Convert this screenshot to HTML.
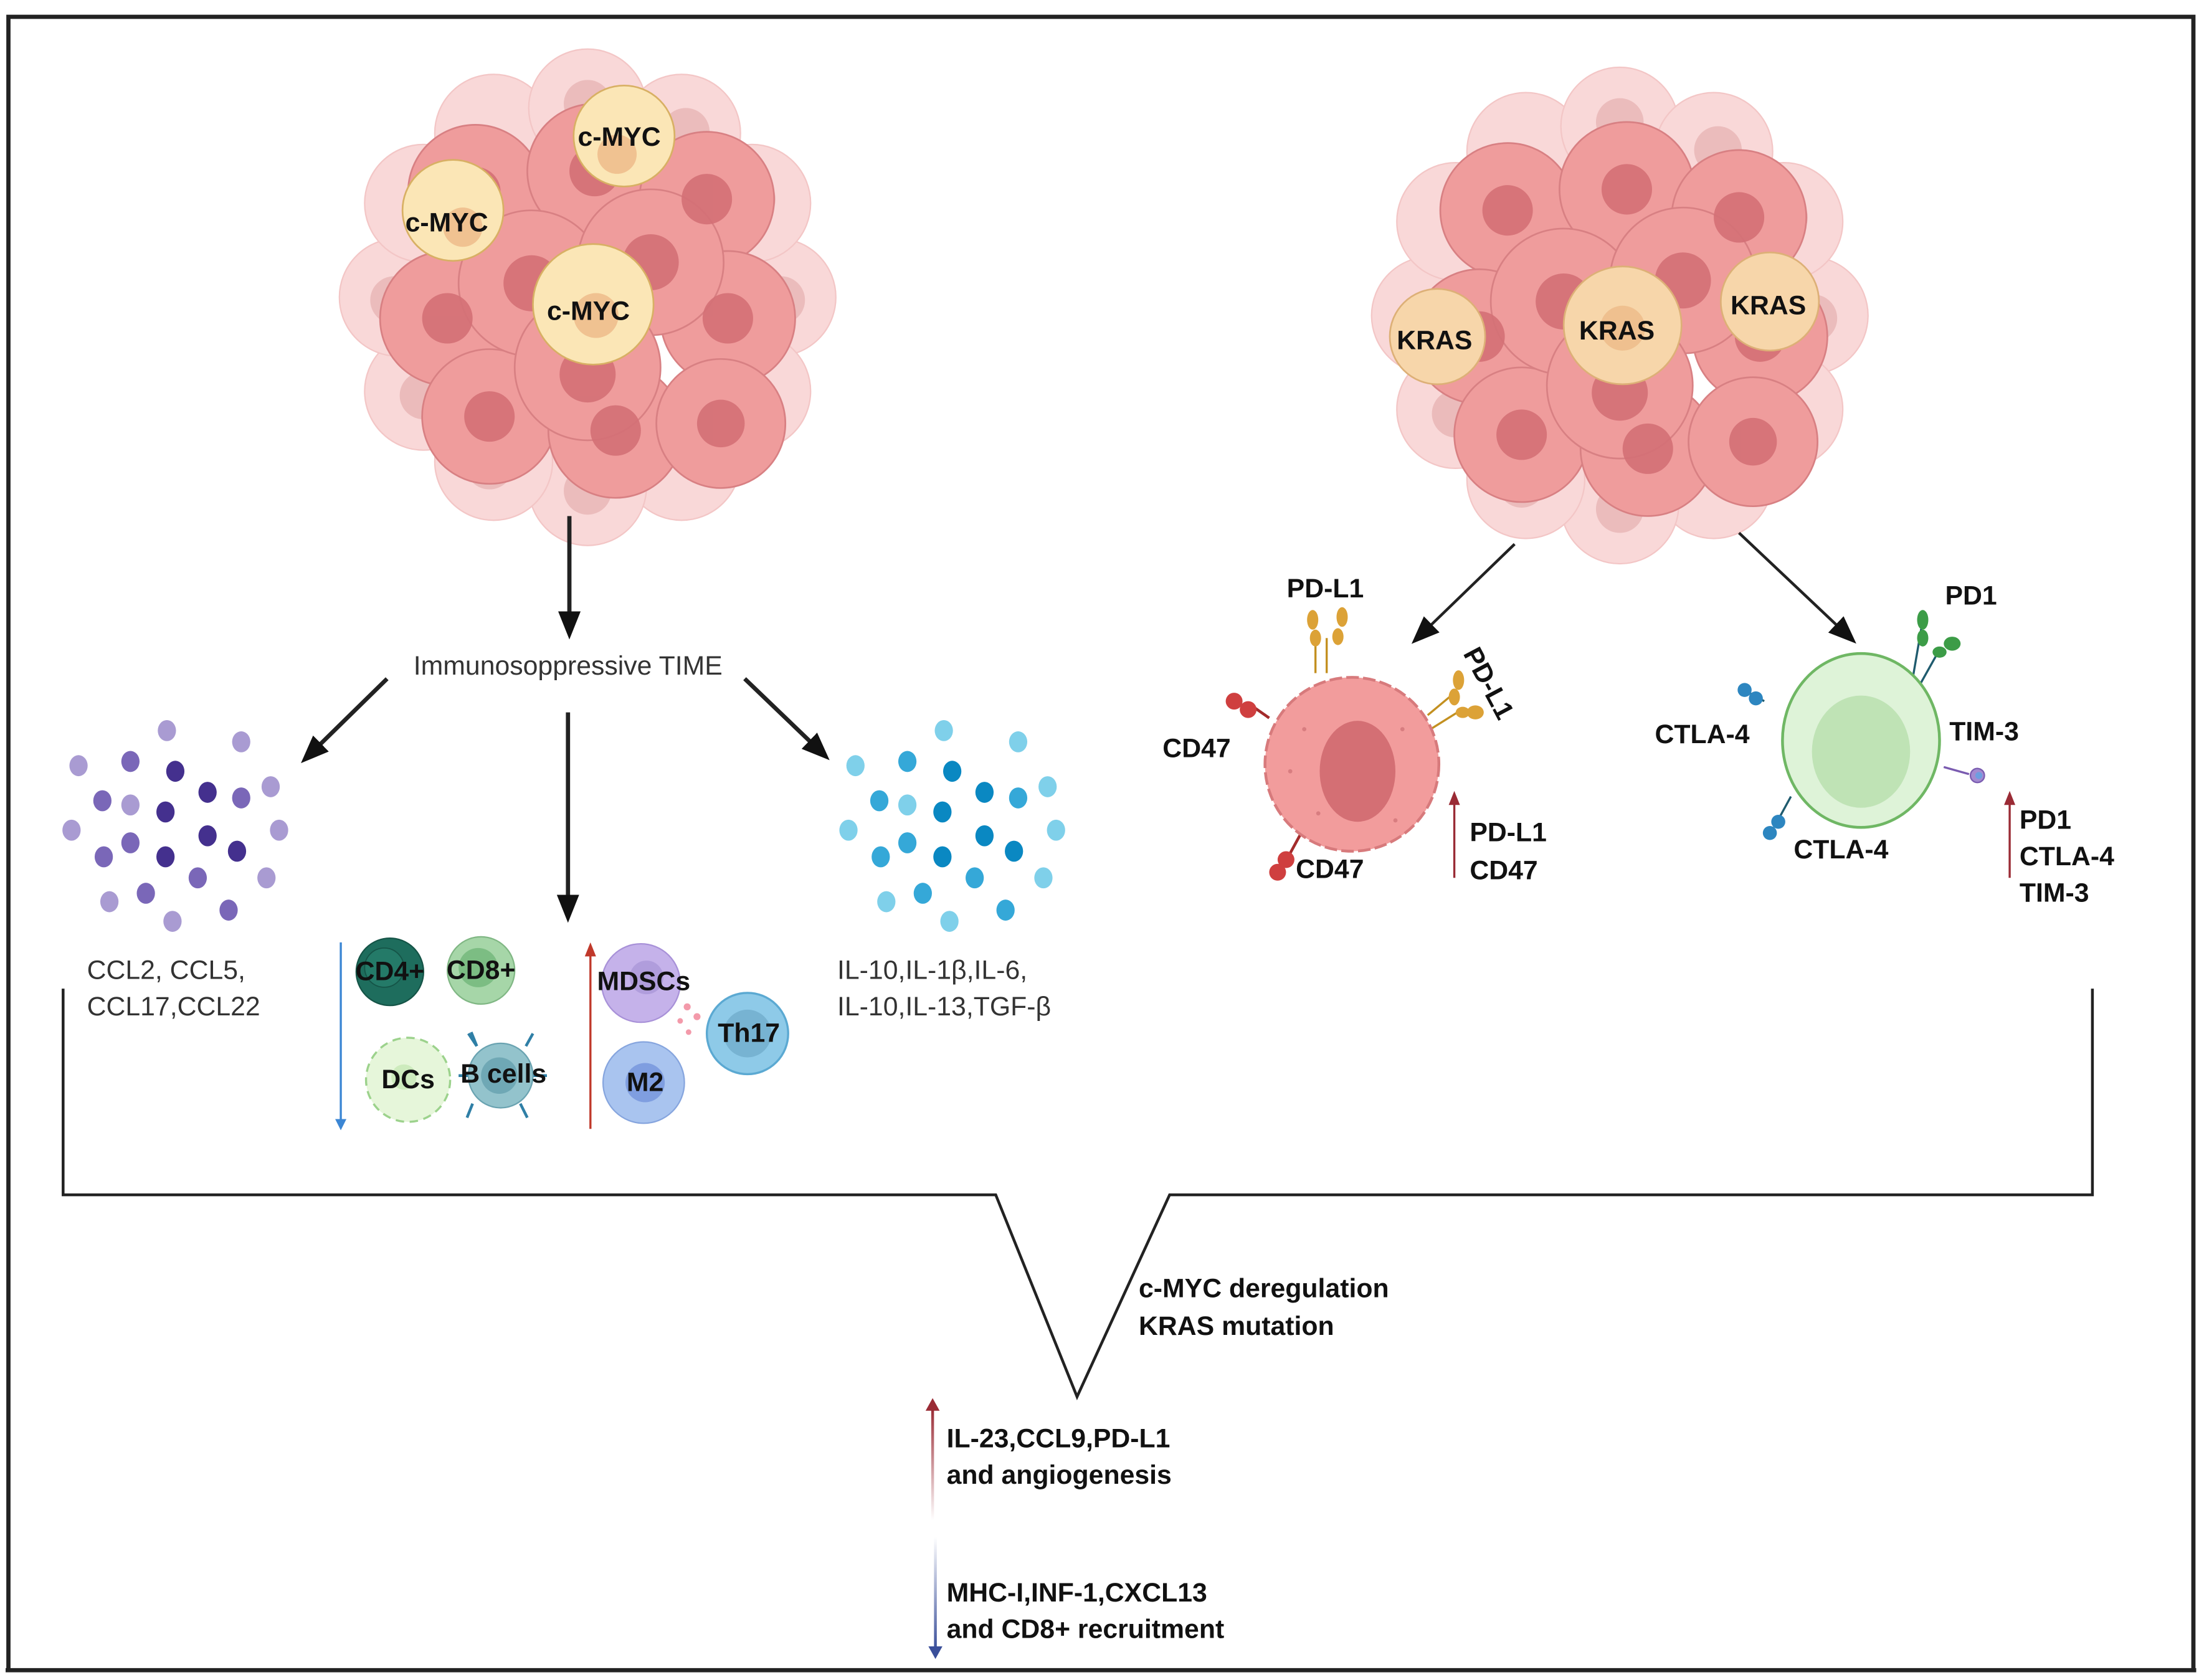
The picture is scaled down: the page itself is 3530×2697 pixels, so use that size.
<!DOCTYPE html>
<html><head><meta charset="utf-8"><style>
html,body{margin:0;padding:0;background:#fff}
svg{display:block}
text{font-family:"Liberation Sans",sans-serif}
.b{font-weight:bold;font-size:19px;fill:#111}
.n{font-size:19px;fill:#333}
</style></head><body>
<svg width="3530" height="2697" viewBox="0 0 1568 1198" preserveAspectRatio="none" xmlns="http://www.w3.org/2000/svg">
<defs>
<marker id="ah" markerWidth="20" markerHeight="16" refX="4" refY="8" orient="auto" markerUnits="userSpaceOnUse" viewBox="0 0 20 16"><path d="M0,0 L20,8 L0,16 Z" fill="#111"/></marker>
<g id="tumor">
 <g fill="#f7cccc" stroke="#efb3b3" stroke-width="1" opacity="0.75">
  <circle cx="135" cy="0" r="42"/><circle cx="117" cy="67" r="42"/><circle cx="67" cy="117" r="42"/><circle cx="0" cy="135" r="42"/><circle cx="-67" cy="117" r="42"/><circle cx="-117" cy="67" r="42"/><circle cx="-135" cy="0" r="42"/><circle cx="-117" cy="-67" r="42"/><circle cx="-67" cy="-117" r="42"/><circle cx="0" cy="-135" r="42"/><circle cx="67" cy="-117" r="42"/><circle cx="117" cy="-67" r="42"/>
 </g>
 <g fill="#e6b0b0" opacity="0.7">
  <circle cx="138" cy="2" r="17"/><circle cx="-138" cy="2" r="17"/><circle cx="0" cy="-138" r="17"/><circle cx="0" cy="138" r="17"/><circle cx="-117" cy="70" r="17"/><circle cx="117" cy="-70" r="17"/><circle cx="-70" cy="120" r="17"/><circle cx="70" cy="-118" r="17"/>
 </g>
 <g fill="#ef9c9c" stroke="#d88083" stroke-width="1.2">
  <circle cx="-80" cy="-75" r="48"/><circle cx="5" cy="-90" r="48"/><circle cx="85" cy="-70" r="48"/><circle cx="-100" cy="15" r="48"/><circle cx="100" cy="15" r="48"/><circle cx="-70" cy="85" r="48"/><circle cx="20" cy="95" r="48"/><circle cx="95" cy="90" r="46"/><circle cx="-40" cy="-10" r="52"/><circle cx="45" cy="-25" r="52"/><circle cx="0" cy="50" r="52"/>
 </g>
 <g fill="#d47076" opacity="0.9">
  <circle cx="-80" cy="-75" r="18"/><circle cx="5" cy="-90" r="18"/><circle cx="85" cy="-70" r="18"/><circle cx="-100" cy="15" r="18"/><circle cx="100" cy="15" r="18"/><circle cx="-70" cy="85" r="18"/><circle cx="20" cy="95" r="18"/><circle cx="95" cy="90" r="17"/><circle cx="-40" cy="-10" r="20"/><circle cx="45" cy="-25" r="20"/><circle cx="0" cy="55" r="20"/>
 </g>
</g>
</defs>

<path d="M6,1190 L6,12 L1564,12 L1564,1190" fill="none" stroke="#222" stroke-width="3"/>
<line x1="4" y1="1191" x2="1566" y2="1191" stroke="#222" stroke-width="3"/>

<use href="#tumor" transform="translate(419,212)"/>
<g fill="#fbe6b6" stroke="#d8b064" stroke-width="1.2">
 <circle cx="445" cy="97" r="36"/><circle cx="323" cy="150" r="36"/><circle cx="423" cy="217" r="43"/>
</g>
<g fill="#f0c291"><circle cx="440" cy="110" r="14"/><circle cx="330" cy="162" r="14"/><circle cx="425" cy="225" r="16"/></g>
<text class="b" x="412" y="104" font-size="20">c-MYC</text>
<text class="b" x="289" y="165" font-size="20">c-MYC</text>
<text class="b" x="390" y="228" font-size="20">c-MYC</text>

<use href="#tumor" transform="translate(1155,225)"/>
<g fill="#f7d6aa" stroke="#ddb077" stroke-width="1.2">
 <circle cx="1025" cy="240" r="34"/><circle cx="1157" cy="232" r="42"/><circle cx="1262" cy="215" r="35"/>
</g>
<g fill="#efc08f"><circle cx="1157" cy="234" r="16"/></g>
<text class="b" x="996" y="249" font-size="20">KRAS</text>
<text class="b" x="1126" y="242" font-size="20">KRAS</text>
<text class="b" x="1234" y="224" font-size="20">KRAS</text>

<g stroke="#222" stroke-width="3" fill="none">
 <line x1="406" y1="368" x2="406" y2="440" marker-end="url(#ah)"/>
 <line x1="276" y1="484" x2="226" y2="533" marker-end="url(#ah)"/>
 <line x1="405" y1="508" x2="405" y2="642" marker-end="url(#ah)"/>
 <line x1="531" y1="484" x2="580" y2="531" marker-end="url(#ah)"/>
 <line x1="1080" y1="388" x2="1018" y2="448" marker-end="url(#ah)" stroke-width="2"/>
 <line x1="1240" y1="380" x2="1312" y2="448" marker-end="url(#ah)" stroke-width="2"/>
</g>
<text class="n" x="405" y="481" text-anchor="middle" font-size="20">Immunosoppressive TIME</text>

<g>
<ellipse cx="119" cy="521" rx="6.5" ry="7.5" fill="#a99bd2"/><ellipse cx="172" cy="529" rx="6.5" ry="7.5" fill="#a99bd2"/><ellipse cx="56" cy="546" rx="6.5" ry="7.5" fill="#a99bd2"/><ellipse cx="93" cy="543" rx="6.5" ry="7.5" fill="#7a67b8"/><ellipse cx="125" cy="550" rx="6.5" ry="7.5" fill="#44308e"/><ellipse cx="148" cy="565" rx="6.5" ry="7.5" fill="#44308e"/><ellipse cx="193" cy="561" rx="6.5" ry="7.5" fill="#a99bd2"/><ellipse cx="73" cy="571" rx="6.5" ry="7.5" fill="#7a67b8"/><ellipse cx="93" cy="574" rx="6.5" ry="7.5" fill="#a99bd2"/><ellipse cx="118" cy="579" rx="6.5" ry="7.5" fill="#44308e"/><ellipse cx="172" cy="569" rx="6.5" ry="7.5" fill="#7a67b8"/><ellipse cx="51" cy="592" rx="6.5" ry="7.5" fill="#a99bd2"/><ellipse cx="148" cy="596" rx="6.5" ry="7.5" fill="#44308e"/><ellipse cx="199" cy="592" rx="6.5" ry="7.5" fill="#a99bd2"/><ellipse cx="93" cy="601" rx="6.5" ry="7.5" fill="#7a67b8"/><ellipse cx="74" cy="611" rx="6.5" ry="7.5" fill="#7a67b8"/><ellipse cx="118" cy="611" rx="6.5" ry="7.5" fill="#44308e"/><ellipse cx="169" cy="607" rx="6.5" ry="7.5" fill="#44308e"/><ellipse cx="141" cy="626" rx="6.5" ry="7.5" fill="#7a67b8"/><ellipse cx="190" cy="626" rx="6.5" ry="7.5" fill="#a99bd2"/><ellipse cx="104" cy="637" rx="6.5" ry="7.5" fill="#7a67b8"/><ellipse cx="78" cy="643" rx="6.5" ry="7.5" fill="#a99bd2"/><ellipse cx="163" cy="649" rx="6.5" ry="7.5" fill="#7a67b8"/><ellipse cx="123" cy="657" rx="6.5" ry="7.5" fill="#a99bd2"/>
</g>
<g transform="translate(554,0)">
<ellipse cx="119" cy="521" rx="6.5" ry="7.5" fill="#7fd0ea"/><ellipse cx="172" cy="529" rx="6.5" ry="7.5" fill="#7fd0ea"/><ellipse cx="56" cy="546" rx="6.5" ry="7.5" fill="#7fd0ea"/><ellipse cx="93" cy="543" rx="6.5" ry="7.5" fill="#35a8d8"/><ellipse cx="125" cy="550" rx="6.5" ry="7.5" fill="#0a88c2"/><ellipse cx="148" cy="565" rx="6.5" ry="7.5" fill="#0a88c2"/><ellipse cx="193" cy="561" rx="6.5" ry="7.5" fill="#7fd0ea"/><ellipse cx="73" cy="571" rx="6.5" ry="7.5" fill="#35a8d8"/><ellipse cx="93" cy="574" rx="6.5" ry="7.5" fill="#7fd0ea"/><ellipse cx="118" cy="579" rx="6.5" ry="7.5" fill="#0a88c2"/><ellipse cx="172" cy="569" rx="6.5" ry="7.5" fill="#35a8d8"/><ellipse cx="51" cy="592" rx="6.5" ry="7.5" fill="#7fd0ea"/><ellipse cx="148" cy="596" rx="6.5" ry="7.5" fill="#0a88c2"/><ellipse cx="199" cy="592" rx="6.5" ry="7.5" fill="#7fd0ea"/><ellipse cx="93" cy="601" rx="6.5" ry="7.5" fill="#35a8d8"/><ellipse cx="74" cy="611" rx="6.5" ry="7.5" fill="#35a8d8"/><ellipse cx="118" cy="611" rx="6.5" ry="7.5" fill="#0a88c2"/><ellipse cx="169" cy="607" rx="6.5" ry="7.5" fill="#0a88c2"/><ellipse cx="141" cy="626" rx="6.5" ry="7.5" fill="#35a8d8"/><ellipse cx="190" cy="626" rx="6.5" ry="7.5" fill="#7fd0ea"/><ellipse cx="104" cy="637" rx="6.5" ry="7.5" fill="#35a8d8"/><ellipse cx="78" cy="643" rx="6.5" ry="7.5" fill="#7fd0ea"/><ellipse cx="163" cy="649" rx="6.5" ry="7.5" fill="#35a8d8"/><ellipse cx="123" cy="657" rx="6.5" ry="7.5" fill="#7fd0ea"/>
</g>

<text class="n" x="62" y="698">CCL2, CCL5,</text>
<text class="n" x="62" y="724">CCL17,CCL22</text>
<text class="n" x="597" y="698">IL-10,IL-1β,IL-6,</text>
<text class="n" x="597" y="724">IL-10,IL-13,TGF-β</text>

<line x1="243" y1="672" x2="243" y2="800" stroke="#3b86d4" stroke-width="1.5"/>
<path d="M239,798 L247,798 L243,806 Z" fill="#3b86d4"/>
<circle cx="278" cy="693" r="24" fill="#1e6d5d" stroke="#155447"/>
<circle cx="274" cy="690" r="14" fill="#247a68" stroke="#155447" stroke-width="0.8"/>
<text class="b" x="278" y="699" text-anchor="middle" font-size="14">CD4+</text>
<circle cx="343" cy="692" r="24" fill="#a6d6a8" stroke="#80b784"/>
<circle cx="341" cy="690" r="14" fill="#7cbd83"/>
<text class="b" x="343" y="698" text-anchor="middle" font-size="14">CD8+</text>
<circle cx="291" cy="770" r="30" fill="#e6f6da" stroke="#9cd28c" stroke-width="1.5" stroke-dasharray="6 4"/>
<circle cx="291" cy="770" r="24" fill="#e6f6da"/>
<circle cx="288" cy="768" r="9" fill="#cdebbd"/>
<text class="b" x="291" y="776" text-anchor="middle" font-size="14">DCs</text>
<g stroke="#2f7fa6" stroke-width="2" fill="none">
 <path d="M340,746 L334,737 M340,746 L336,736"/><path d="M375,746 L380,737"/><path d="M337,787 L333,797"/><path d="M371,787 L376,797"/><path d="M335,767 L327,767"/><path d="M380,767 L390,767"/>
</g>
<circle cx="357" cy="767" r="23" fill="#93c3cc" stroke="#6aa3b1"/>
<circle cx="356" cy="767" r="13" fill="#6fa8b5"/>
<text class="b" x="359" y="772" text-anchor="middle" font-size="13">B cells</text>

<line x1="421" y1="805" x2="421" y2="680" stroke="#c0392b" stroke-width="1.5"/>
<path d="M417,682 L425,682 L421,672 Z" fill="#c0392b"/>
<circle cx="457" cy="701" r="28" fill="#c5b2ea" stroke="#a891d8"/>
<circle cx="461" cy="697" r="12" fill="#b09ddc"/>
<text class="b" x="459" y="706" text-anchor="middle" font-size="14">MDSCs</text>
<g fill="#f39aaa"><circle cx="490" cy="718" r="2.5"/><circle cx="497" cy="725" r="2.5"/><circle cx="485" cy="728" r="2"/><circle cx="491" cy="736" r="2"/></g>
<circle cx="533" cy="737" r="29" fill="#8ecae8" stroke="#5ba9d2" stroke-width="1.5"/>
<circle cx="533" cy="737" r="17" fill="#77b3d2"/>
<text class="b" x="534" y="743" text-anchor="middle" font-size="15">Th17</text>
<circle cx="459" cy="772" r="29" fill="#a9c4ef" stroke="#86a5de"/>
<circle cx="460" cy="772" r="14" fill="#7f9ee0"/>
<text class="b" x="460" y="778" text-anchor="middle" font-size="15">M2</text>

<g stroke="#c39020" stroke-width="1.5" fill="none"><line x1="938" y1="480" x2="938" y2="455"/><line x1="946" y1="480" x2="946" y2="455"/><line x1="1018" y1="510" x2="1036" y2="495"/><line x1="1020" y1="520" x2="1044" y2="505"/></g>
<g fill="#dca237"><ellipse cx="936" cy="442" rx="4" ry="7"/><ellipse cx="938" cy="455" rx="4" ry="6"/><ellipse cx="957" cy="440" rx="4" ry="7"/><ellipse cx="954" cy="454" rx="4" ry="6"/><ellipse cx="1040" cy="485" rx="4" ry="7"/><ellipse cx="1037" cy="497" rx="4" ry="6"/><ellipse cx="1052" cy="508" rx="6" ry="5"/><ellipse cx="1043" cy="508" rx="5" ry="4"/></g>
<g stroke="#a32b2b" stroke-width="2"><line x1="905" y1="512" x2="895" y2="505"/><line x1="930" y1="590" x2="918" y2="612"/></g>
<g fill="#cf3f3f"><circle cx="880" cy="500" r="6"/><circle cx="890" cy="506" r="6"/><circle cx="917" cy="613" r="6"/><circle cx="911" cy="622" r="6"/></g>
<circle cx="964" cy="545" r="62" fill="#f29c9c" stroke="#d77a7c" stroke-width="2" stroke-dasharray="9 3"/>
<circle cx="964" cy="545" r="58" fill="#f29c9c"/>
<ellipse cx="968" cy="550" rx="27" ry="36" fill="#d46f74"/>
<g fill="#d87d80"><circle cx="930" cy="520" r="1.5"/><circle cx="1000" cy="520" r="1.5"/><circle cx="940" cy="580" r="1.5"/><circle cx="995" cy="585" r="1.5"/><circle cx="920" cy="550" r="1.5"/></g>
<text class="b" x="945" y="426" text-anchor="middle" font-size="20">PD-L1</text>
<text class="b" x="1043" y="466" font-size="20" transform="rotate(62 1043 466)">PD-L1</text>
<text class="b" x="829" y="540" font-size="20">CD47</text>
<text class="b" x="924" y="626" font-size="20">CD47</text>
<line x1="1037" y1="626" x2="1037" y2="572" stroke="#9a2b35" stroke-width="1.5"/>
<path d="M1033,574 L1041,574 L1037,564 Z" fill="#9a2b35"/>
<text class="b" x="1048" y="600" font-size="20">PD-L1</text>
<text class="b" x="1048" y="627" font-size="20">CD47</text>

<g stroke="#1f5b6e" stroke-width="1.5"><line x1="1258" y1="500" x2="1240" y2="490"/><line x1="1277" y1="568" x2="1265" y2="590"/><line x1="1364" y1="483" x2="1370" y2="448"/><line x1="1368" y1="490" x2="1382" y2="465"/></g>
<line x1="1386" y1="547" x2="1404" y2="552" stroke="#7a5bb0" stroke-width="1.5"/>
<g fill="#2d86c0"><circle cx="1244" cy="492" r="5"/><circle cx="1252" cy="498" r="5"/><circle cx="1262" cy="594" r="5"/><circle cx="1268" cy="586" r="5"/></g>
<g fill="#3c9c47"><ellipse cx="1371" cy="442" rx="4" ry="7"/><ellipse cx="1371" cy="455" rx="4" ry="6"/><ellipse cx="1392" cy="459" rx="6" ry="5"/><ellipse cx="1383" cy="465" rx="5" ry="4"/></g>
<circle cx="1410" cy="553" r="5" fill="#a38ad0" stroke="#7a5bb0"/><circle cx="1411" cy="553" r="2.5" fill="#6d9ee0"/>
<ellipse cx="1327" cy="528" rx="56" ry="62" fill="#def3d8" stroke="#6fb764" stroke-width="2"/>
<ellipse cx="1327" cy="536" rx="35" ry="40" fill="#b6dfac" opacity="0.8"/>
<text class="b" x="1387" y="431" font-size="20">PD1</text>
<text class="b" x="1180" y="530" font-size="20">CTLA-4</text>
<text class="b" x="1390" y="528" font-size="20">TIM-3</text>
<text class="b" x="1279" y="612" font-size="20">CTLA-4</text>
<line x1="1433" y1="626" x2="1433" y2="572" stroke="#9a2b35" stroke-width="1.5"/>
<path d="M1429,574 L1437,574 L1433,564 Z" fill="#9a2b35"/>
<text class="b" x="1440" y="591" font-size="20">PD1</text>
<text class="b" x="1440" y="617" font-size="20">CTLA-4</text>
<text class="b" x="1440" y="643" font-size="20">TIM-3</text>

<path d="M45,705 L45,852 L710,852 L768,996 L834,852 L1492,852 L1492,705" fill="none" stroke="#222" stroke-width="2"/>
<text class="b" x="812" y="925" font-size="20">c-MYC deregulation</text>
<text class="b" x="812" y="952" font-size="20">KRAS mutation</text>

<defs>
<linearGradient id="gr" x1="0" y1="1" x2="0" y2="0"><stop offset="0" stop-color="#9a2b35" stop-opacity="0"/><stop offset="1" stop-color="#9a2b35"/></linearGradient>
<linearGradient id="gb" x1="0" y1="0" x2="0" y2="1"><stop offset="0" stop-color="#3a4f9a" stop-opacity="0"/><stop offset="1" stop-color="#3a4f9a"/></linearGradient>
</defs>
<rect x="664" y="1004" width="2" height="80" fill="url(#gr)"/>
<path d="M660,1006 L670,1006 L665,997 Z" fill="#9a2b35"/>
<rect x="666" y="1096" width="2" height="80" fill="url(#gb)"/>
<path d="M662,1174 L672,1174 L667,1183 Z" fill="#3a4f9a"/>
<text class="b" x="675" y="1032" font-size="20">IL-23,CCL9,PD-L1</text>
<text class="b" x="675" y="1058" font-size="20">and angiogenesis</text>
<text class="b" x="675" y="1142" font-size="20">MHC-I,INF-1,CXCL13</text>
<text class="b" x="675" y="1168" font-size="20">and CD8+ recruitment</text>
</svg>
</body></html>
